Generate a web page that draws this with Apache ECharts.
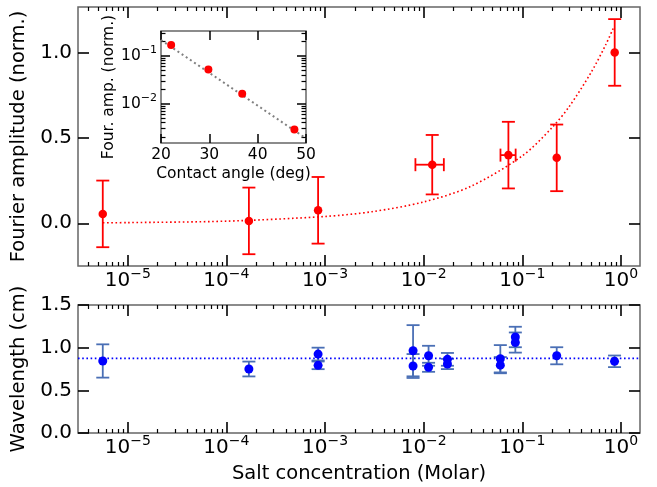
<!DOCTYPE html>
<html>
<head>
<meta charset="utf-8">
<script src="https://cdn.jsdelivr.net/npm/echarts@6/dist/echarts.min.js"></script>
<style>
html, body { margin: 0; padding: 0; background: #fff; }
#main { width: 657px; height: 487px; }
</style>
</head>
<body>
<div id="main"></div>
<script>
// top panel: Fourier amplitude vs salt concentration
const ampConc = [5.58e-6, 1.69e-4, 8.5e-4, 0.0122, 0.0722, 0.223, 0.863];
const ampVal = [0.055, 0.014, 0.076, 0.343, 0.399, 0.383, 1.0];
const ampErr = [0.195, 0.195, 0.195, 0.174, 0.195, 0.195, 0.195];
const ampConcLo = ['-', '-', '-', 0.00824, 0.060, '-', '-'];
const ampConcHi = ['-', '-', '-', 0.016, 0.0855, '-', '-'];

// dotted fit curve
const fitConc = [5.6e-6, 1e-5, 1e-4, 1e-3, 3e-3, 1e-2, 3e-2, 0.1, 0.2, 0.3, 0.5, 0.7, 0.84];
const fitAmp = [0.003, 0.004, 0.0125, 0.04, 0.068, 0.125, 0.216, 0.395, 0.56, 0.685, 0.885, 1.045, 1.145];

// inset: amplitude vs contact angle
const angle = [22.1, 29.8, 36.8, 47.6];
const angleAmp = [0.169, 0.0519, 0.0162, 0.00287];
const angleFitX = [20, 50];
const angleFitY = [0.215, 0.00187];

// bottom panel: wavelength vs salt concentration
const wlConc = [5.58e-6, 1.69e-4, 8.5e-4, 8.5e-4, 7.8e-3, 7.8e-3, 0.0112, 0.0112, 0.0174, 0.0174, 0.0598, 0.0598, 0.0849, 0.0849, 0.223, 0.86];
const wlVal = [0.844, 0.75, 0.925, 0.793, 0.964, 0.785, 0.905, 0.77, 0.863, 0.809, 0.87, 0.795, 1.125, 1.06, 0.905, 0.84];
const wlErr = [0.195, 0.087, 0.075, 0.045, 0.30, 0.14, 0.117, 0.053, 0.075, 0.06, 0.16, 0.095, 0.12, 0.118, 0.10, 0.068];
const wlMean = 0.875;

// ticks
const concTicks = [1e-5, 1e-4, 1e-3, 1e-2, 1e-1, 1];
const ampTicks = [0, 0.5, 1.0];
const insetYTicks = [1e-3, 1e-2, 1e-1, 1];

function minorsFor(majors) {
    let out = [];
    majors.forEach(m => {
        for (let k = 2; k <= 9; k++) out.push(+(m * k / 10).toPrecision(3));
    });
    return out;
}
const concMinor = minorsFor(concTicks.concat([10]));
const insetYMinor = minorsFor(insetYTicks);

const FONT = 'DejaVu Sans';
const RED = '#ff0000';
const BLUE = '#0000ff';
const EBLUE = '#4a6fb5';
const SPINE = '#666666';

function powLabel(v) {
    let e = v <= 0 ? v : Math.round(Math.log10(v));
    let s = e < 0 ? '\u2212' + (-e) : '' + e;
    return '{b|10}{s|' + s + '}';
}
function powRich(big, small, lift) {
    return {
        b: {fontSize: big, fontFamily: FONT, color: '#000'},
        s: {fontSize: small, fontFamily: FONT, color: '#000', padding: [0, 0, lift, 0]}
    };
}

function errBars(color) {
    return function (params, api) {
        let x = api.value(0), y = api.value(1), e = api.value(2);
        let xlo = api.value(3), xhi = api.value(4);
        let top = api.coord([x, y + e]);
        let bot = api.coord([x, y - e]);
        let cap = 6.5;
        let style = {stroke: color, lineWidth: 1.8};
        let ch = [
            {type: 'line', shape: {x1: top[0], y1: top[1], x2: bot[0], y2: bot[1]}, style: style},
            {type: 'line', shape: {x1: top[0] - cap, y1: top[1], x2: top[0] + cap, y2: top[1]}, style: style},
            {type: 'line', shape: {x1: bot[0] - cap, y1: bot[1], x2: bot[0] + cap, y2: bot[1]}, style: style}
        ];
        if (!isNaN(xlo) && !isNaN(xhi)) {
            let l = api.coord([xlo, y]), r = api.coord([xhi, y]);
            ch.push({type: 'line', shape: {x1: l[0], y1: l[1], x2: r[0], y2: r[1]}, style: style});
            ch.push({type: 'line', shape: {x1: l[0], y1: l[1] - cap, x2: l[0], y2: l[1] + cap}, style: style});
            ch.push({type: 'line', shape: {x1: r[0], y1: r[1] - cap, x2: r[0], y2: r[1] + cap}, style: style});
        }
        return {type: 'group', children: ch};
    };
}

const XMIN = 3.13e-6, XMAX = 1.558;
const noLine = {show: false, onZero: false};

// one log concentration axis (major or minor ticks, bottom or top)
function concAxis(grid, pos, minor, labels, name) {
    return {
        type: 'log', gridIndex: grid, position: pos, min: XMIN, max: XMAX,
        axisLine: noLine, splitLine: {show: false},
        axisTick: {
            show: true, inside: true, length: minor ? 4 : 11,
            customValues: minor ? concMinor : concTicks,
            lineStyle: {color: '#000', width: minor ? 1.2 : 1.6}
        },
        axisLabel: labels ? {
            show: true, customValues: concTicks, margin: 1,
            formatter: powLabel, rich: powRich(20, 14, 14)
        } : {show: false},
        name: name || '', nameLocation: 'middle', nameGap: 31,
        nameTextStyle: {fontFamily: FONT, fontSize: 19.5, color: '#000'}
    };
}

function valAxisY(grid, pos, min, max, ticks, labels, name) {
    return {
        type: 'value', gridIndex: grid, position: pos, min: min, max: max,
        axisLine: noLine, splitLine: {show: false},
        axisTick: {show: true, inside: true, length: 11, customValues: ticks,
            lineStyle: {color: '#000', width: 1.6}},
        axisLabel: labels ? {
            show: true, customValues: ticks, margin: 6,
            fontFamily: FONT, fontSize: 20, color: '#000',
            formatter: v => v.toFixed(1)
        } : {show: false},
        name: name || '', nameLocation: 'middle', nameRotate: 90, nameGap: 41,
        nameTextStyle: {fontFamily: FONT, fontSize: 19.5, color: '#000'}
    };
}

function insetY(pos, minor, labels) {
    return {
        type: 'log', gridIndex: 2, position: pos, min: 0.0015, max: 0.332,
        axisLine: noLine, splitLine: {show: false},
        axisTick: {show: true, inside: true, length: minor ? 4.5 : 9,
            customValues: minor ? insetYMinor : insetYTicks,
            lineStyle: {color: '#000', width: minor ? 1.2 : 1.5}},
        axisLabel: labels ? {
            show: true, customValues: insetYTicks, margin: 4,
            formatter: powLabel, rich: powRich(15.5, 11, 11)
        } : {show: false},
        name: labels ? 'Four. amp. (norm.)' : '', nameLocation: 'middle', nameRotate: 90, nameGap: 44,
        nameTextStyle: {fontFamily: FONT, fontSize: 15.5, color: '#000'}
    };
}

function insetX(pos, labels) {
    return {
        type: 'value', gridIndex: 2, position: pos, min: 20, max: 50, interval: 10,
        axisLine: noLine, splitLine: {show: false},
        axisTick: {show: true, inside: true, length: 9, lineStyle: {color: '#000', width: 1.5}},
        axisLabel: labels ? {show: true, margin: 4, fontFamily: FONT, fontSize: 15.5, color: '#000'} : {show: false},
        name: labels ? 'Contact angle (deg)' : '', nameLocation: 'middle', nameGap: 23,
        nameTextStyle: {fontFamily: FONT, fontSize: 15.5, color: '#000'}
    };
}

const gridBase = {show: true, borderColor: SPINE, borderWidth: 1.5, outerBoundsMode: 'none', containLabel: false};

let chart = echarts.init(document.getElementById('main'), null, {renderer: 'canvas'});

const option = {
    animation: false,
    backgroundColor: '#fff',
    grid: [
        Object.assign({left: 78, top: 7, width: 562, height: 259}, gridBase),
        Object.assign({left: 78, top: 305, width: 562, height: 128}, gridBase),
        Object.assign({left: 161, top: 31, width: 145, height: 112}, gridBase)
    ],
    xAxis: [
        concAxis(0, 'bottom', false, true),
        concAxis(0, 'bottom', true, false),
        concAxis(0, 'top', false, false),
        concAxis(0, 'top', true, false),
        concAxis(1, 'bottom', false, true, 'Salt concentration (Molar)'),
        concAxis(1, 'bottom', true, false),
        concAxis(1, 'top', false, false),
        concAxis(1, 'top', true, false),
        insetX('bottom', true),
        insetX('top', false)
    ],
    yAxis: [
        valAxisY(0, 'left', -0.25, 1.266, ampTicks, true, 'Fourier amplitude (norm.)'),
        valAxisY(0, 'right', -0.25, 1.266, ampTicks, false),
        valAxisY(1, 'left', 0, 1.5, [0, 0.5, 1.0, 1.5], true, 'Wavelength (cm)'),
        valAxisY(1, 'right', 0, 1.5, [0, 0.5, 1.0, 1.5], false),
        insetY('left', false, true),
        insetY('left', true, false),
        insetY('right', false, false),
        insetY('right', true, false)
    ],
    series: [
        {
            type: 'line', xAxisIndex: 0, yAxisIndex: 0, smooth: 0.3, showSymbol: false,
            data: fitConc.map((c, i) => [c, fitAmp[i]]),
            lineStyle: {color: RED, width: 1.6, type: [1.6, 2.6]}
        },
        {
            type: 'custom', xAxisIndex: 0, yAxisIndex: 0, renderItem: errBars(RED),
            encode: {x: 0, y: 1},
            data: ampConc.map((c, i) => [c, ampVal[i], ampErr[i], ampConcLo[i], ampConcHi[i]]),
            z: 3
        },
        {
            type: 'scatter', xAxisIndex: 0, yAxisIndex: 0, symbolSize: 8.5,
            itemStyle: {color: RED, opacity: 1},
            data: ampConc.map((c, i) => [c, ampVal[i]]),
            z: 4
        },
        {
            type: 'line', xAxisIndex: 4, yAxisIndex: 2, showSymbol: false,
            data: [[XMIN, wlMean], [XMAX, wlMean]],
            lineStyle: {color: BLUE, width: 1.6, type: [1.6, 2.6]}
        },
        {
            type: 'custom', xAxisIndex: 4, yAxisIndex: 2, renderItem: errBars(EBLUE),
            encode: {x: 0, y: 1},
            data: wlConc.map((c, i) => [c, wlVal[i], wlErr[i], '-', '-']),
            z: 3
        },
        {
            type: 'scatter', xAxisIndex: 4, yAxisIndex: 2, symbolSize: 9,
            itemStyle: {color: BLUE, opacity: 1},
            data: wlConc.map((c, i) => [c, wlVal[i]]),
            z: 4
        },
        {
            type: 'line', xAxisIndex: 8, yAxisIndex: 4, showSymbol: false,
            data: angleFitX.map((a, i) => [a, angleFitY[i]]),
            lineStyle: {color: '#808080', width: 2, type: [2, 3]},
            z: 6
        },
        {
            type: 'scatter', xAxisIndex: 8, yAxisIndex: 4, symbolSize: 8,
            itemStyle: {color: RED, opacity: 1},
            data: angle.map((a, i) => [a, angleAmp[i]]),
            z: 7
        }
    ]
};
chart.setOption(option);
</script>
</body>
</html>
